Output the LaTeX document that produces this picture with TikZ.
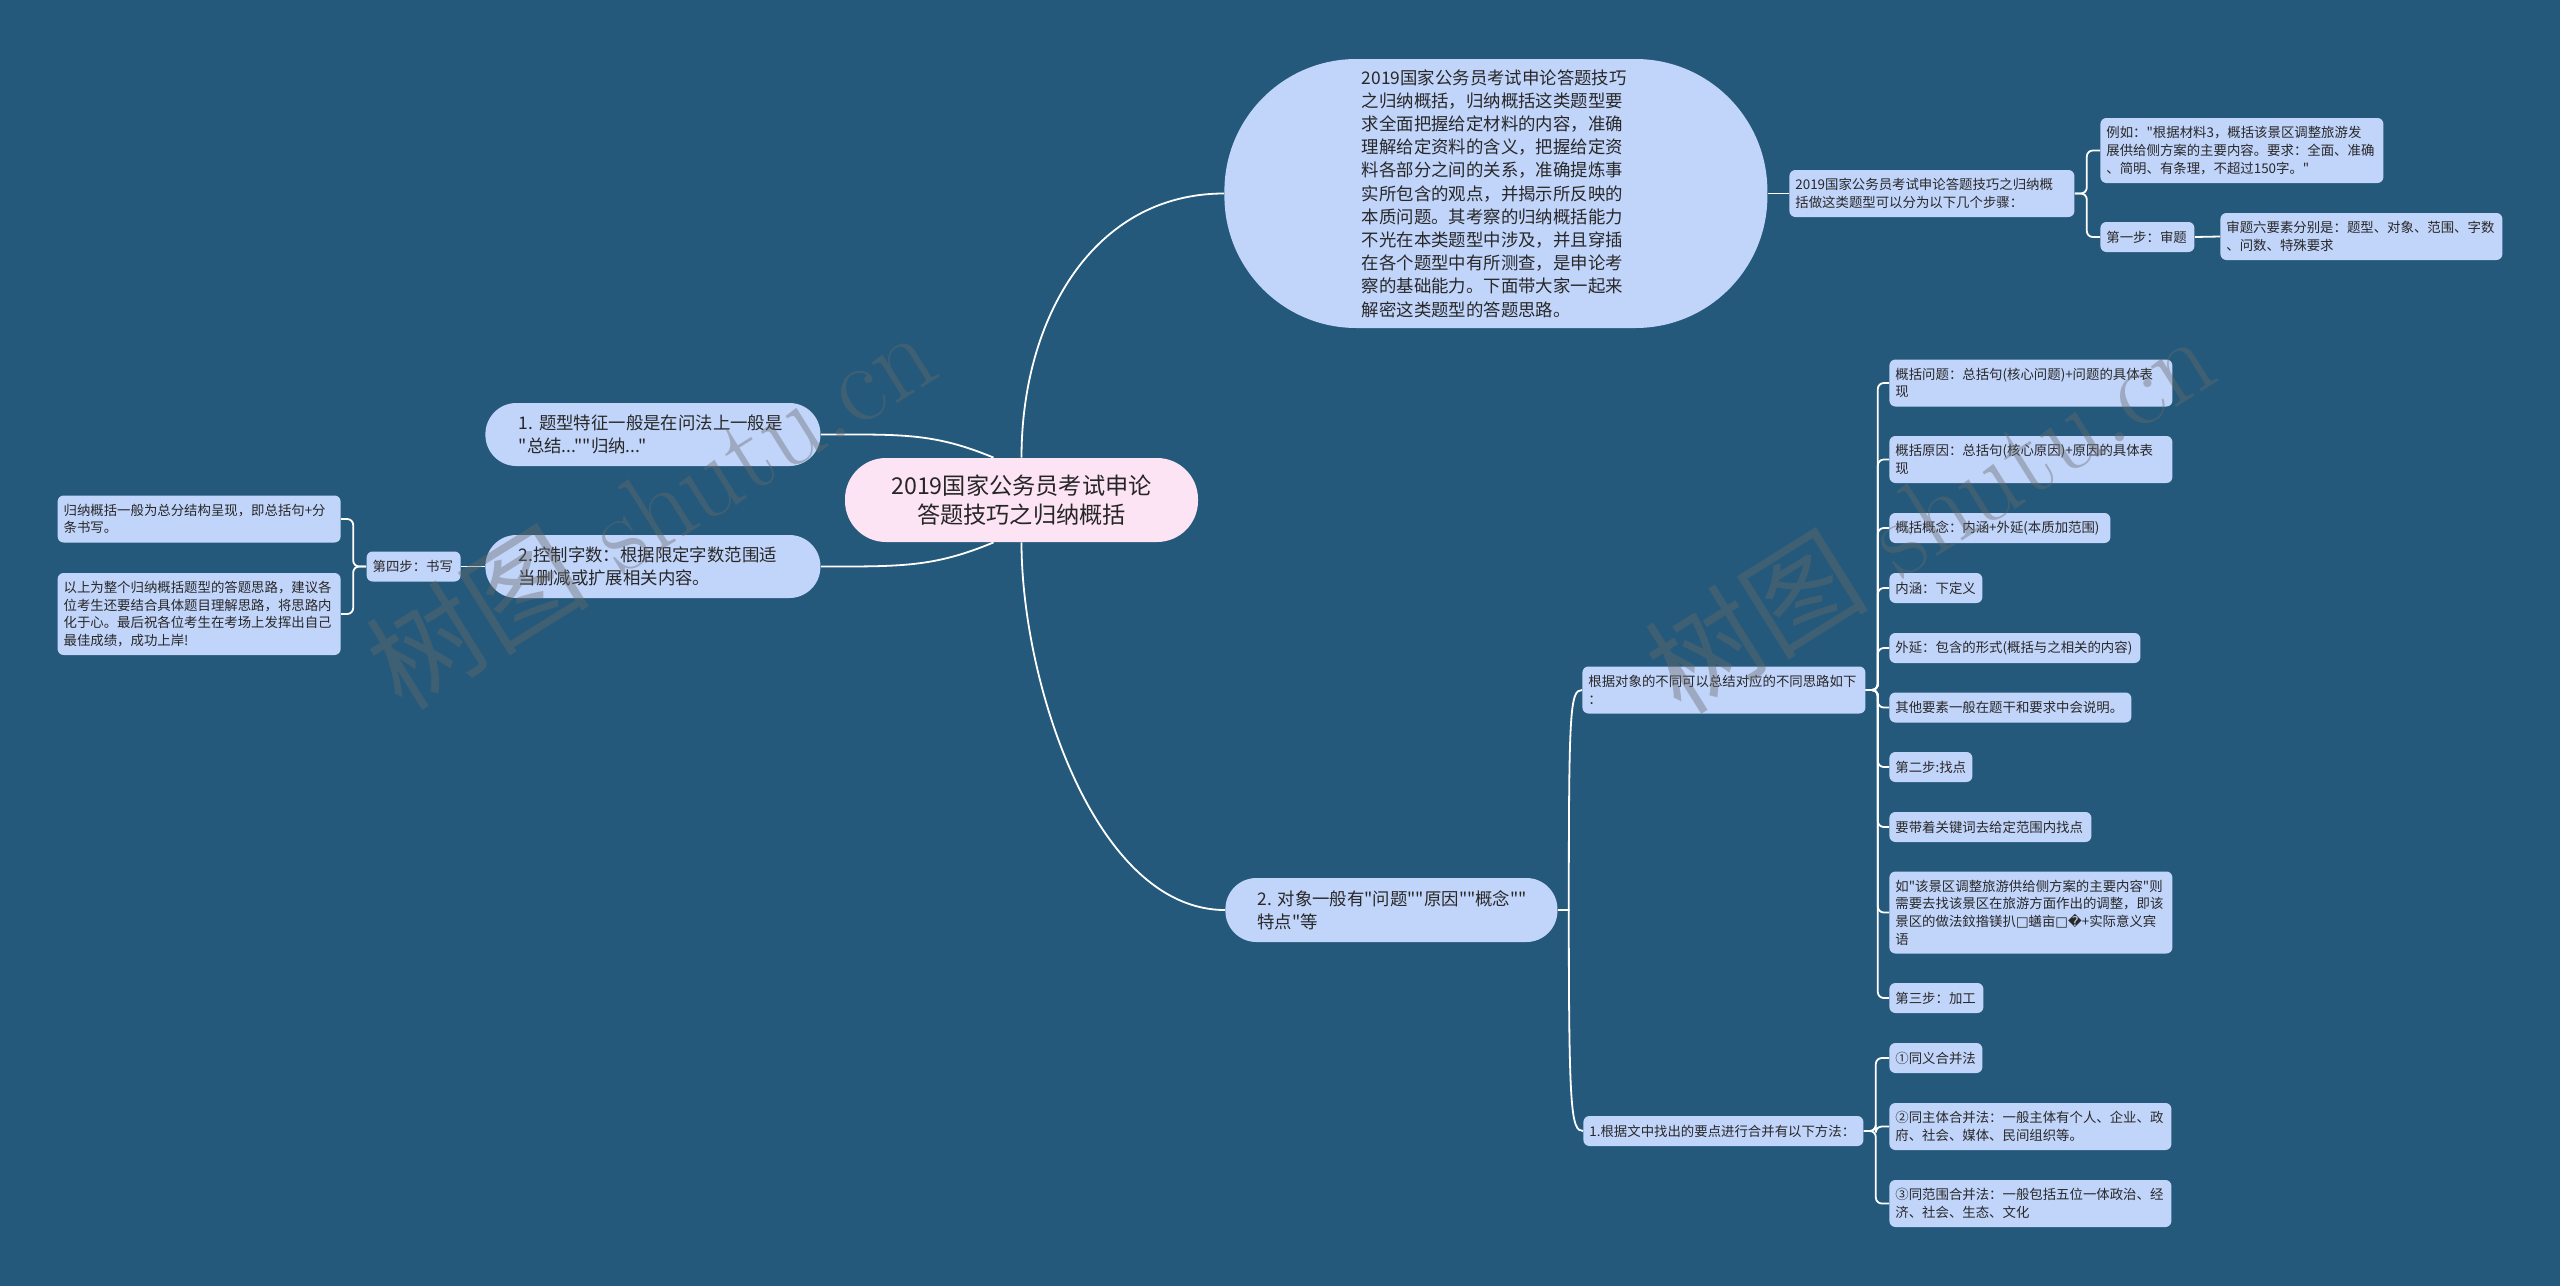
\documentclass[tikz,border=0pt]{standalone}
\usepackage{fontspec}
\newfontfamily\cjk{Noto Sans CJK SC}
\newfontfamily\dejavu{DejaVu Sans}

\definecolor{bgblue}{RGB}{36,89,123}
\definecolor{nodeblue}{RGB}{193,212,250}
\definecolor{rootpink}{RGB}{253,228,245}
\definecolor{textgray}{RGB}{40,40,40}
\definecolor{markgray}{RGB}{105,105,105}

\tikzstyle{topic} = [rectangle, fill=nodeblue, text=textgray, align=left, anchor=west,
text width=134pt, inner xsep=16.75pt, rounded corners=15.5pt, minimum height=31.5pt,
font=\cjk\fontsize{8.7}{11.6}\selectfont]
\tikzstyle{leaf} = [rectangle, fill=nodeblue, text=textgray, align=left, anchor=west,
rounded corners=3pt, inner xsep=3pt, inner ysep=1.5pt, minimum height=15pt,
font=\cjk\fontsize{6.7}{8.8}\selectfont]
\tikzstyle{link} = [draw, white, line width=0.9pt]
\tikzstyle{wmark} = [text=markgray, text opacity=0.4, rotate=32,
font=\fontsize{56}{56}\selectfont]

\begin{document}
\begin{tikzpicture}[x=0.5pt, y=-0.5pt]
    \fill [bgblue] (0,0) rectangle (2560,1286);
    \useasboundingbox (0,0) rectangle (2560,1286);

    % centre
    \node [rectangle, fill=rootpink, text=black!85, align=center, rounded corners=20.5pt,
      minimum width=176.5pt, minimum height=42pt, font=\cjk\fontsize{11.6}{14.2}\selectfont]
      (root) at (1021.5,500) {2019国家公务员考试申论\\答题技巧之归纳概括};

    % upper right
    \node [topic, text width=134pt, inner xsep=68.75pt, rounded corners=66pt, minimum height=134.5pt]
      (intro) at (1224,193.5) {2019国家公务员考试申论答题技巧\\之归纳概括，归纳概括这类题型要\\求全面把握给定材料的内容，准确\\理解给定资料的含义，把握给定资\\料各部分之间的关系，准确提炼事\\实所包含的观点，并揭示所反映的\\本质问题。其考察的归纳概括能力\\不光在本类题型中涉及，并且穿插\\在各个题型中有所测查，是申论考\\察的基础能力。下面带大家一起来\\解密这类题型的答题思路。};
    \node [leaf, text width=136.5pt, minimum height=23.5pt] (steps) at (1789,193.5)
      {2019国家公务员考试申论答题技巧之归纳概\\括做这类题型可以分为以下几个步骤：};
    \node [leaf, text width=135.5pt, minimum height=32.5pt] (liru) at (2100,150.5)
      {例如："根据材料3，概括该景区调整旅游发\\展供给侧方案的主要内容。要求：全面、准确\\、简明、有条理，不超过150字。"};
    \node [leaf, text width=41pt] (diyibu) at (2100,237) {第一步：审题};
    \node [leaf, text width=135pt, minimum height=23.5pt] (shenti) at (2220,236.5)
      {审题六要素分别是：题型、对象、范围、字数\\、问数、特殊要求};

    % left
    \node [topic] (tixing) at (485,434.5) {1.~题型特征一般是在问法上一般是\\"总结...""归纳..."};
    \node [topic] (kongzhi) at (485,566.5) {2.控制字数：根据限定字数范围适\\当删减或扩展相关内容。};
    \node [leaf, anchor=east, text width=41pt] (disibu) at (461,566.5) {第四步：书写};
    \node [leaf, anchor=east, text width=135.5pt, minimum height=23.5pt] (guina) at (341,519)
      {归纳概括一般为总分结构呈现，即总括句+分\\条书写。};
    \node [leaf, anchor=east, text width=135.5pt, minimum height=41pt] (yishang) at (341,614)
      {以上为整个归纳概括题型的答题思路，建议各\\位考生还要结合具体题目理解思路，将思路内\\化于心。最后祝各位考生在考场上发挥出自己\\最佳成绩，成功上岸!};

    % lower right
    \node [topic, text width=134pt, inner xsep=16pt, rounded corners=15.5pt, minimum height=32pt]
      (duixiang) at (1225,910) {2.~对象一般有"问题""原因""概念""\\特点"等};
    \node [leaf, text width=135.5pt, minimum height=23.5pt] (genju) at (1582,690)
      {根据对象的不同可以总结对应的不同思路如下\\：};
    \node [leaf, text width=134pt] (hebing) at (1583,1131) {1.根据文中找出的要点进行合并有以下方法：};

    \node [leaf, text width=135.5pt, minimum height=23.5pt] (wenti) at (1889,383)
      {概括问题：总括句(核心问题)+问题的具体表\\现};
    \node [leaf, text width=135.5pt, minimum height=23.5pt] (yuanyin) at (1889,459.5)
      {概括原因：总括句(核心原因)+原因的具体表\\现};
    \node [leaf, text width=104.5pt] (gainian) at (1889,528) {概括概念：内涵+外延(本质加范围)};
    \node [leaf, text width=40.5pt] (neihan) at (1889,588) {内涵：下定义};
    \node [leaf, text width=119.5pt] (waiyan) at (1889,648) {外延：包含的形式(概括与之相关的内容)};
    \node [leaf, text width=115pt] (qita) at (1889,707.5) {其他要素一般在题干和要求中会说明。};
    \node [leaf, text width=35.5pt] (dierbu) at (1889,767) {第二步:找点};
    \node [leaf, text width=95pt] (daizhe) at (1889,827) {要带着关键词去给定范围内找点};
    \node [leaf, text width=135.5pt, minimum height=41pt] (ruxx) at (1889,912.5)
      {如"该景区调整旅游供给侧方案的主要内容"则\\需要去找该景区在旅游方面作出的调整，即该\\景区的做法鈫揝镁扒{\dejavu □}蟮亩{\dejavu □�}+实际意义宾\\语};
    \node [leaf, text width=41pt] (disanbu) at (1889,998) {第三步：加工};
    \node [leaf, text width=40.5pt] (tongyi) at (1889,1058) {①同义合并法};
    \node [leaf, text width=135pt, minimum height=23.5pt] (zhuti) at (1889,1126.5)
      {②同主体合并法：一般主体有个人、企业、政\\府、社会、媒体、民间组织等。};
    \node [leaf, text width=135pt, minimum height=23.5pt] (fanwei) at (1889,1203.5)
      {③同范围合并法：一般包括五位一体政治、经\\济、社会、生态、文化};

    % connectors
    \path [link] (root.north) .. controls +(0,-140) and +(-130,0) .. (intro.west);
    \path [link] (root.south) .. controls +(0,140) and +(-130,0) .. (duixiang.west);
    \path [link] ([xshift=-14pt]root.north) .. controls +(-60,-25) and +(80,0) .. (tixing.east);
    \path [link] ([xshift=-14pt]root.south) .. controls +(-60,25) and +(80,0) .. (kongzhi.east);
    \path [link] (intro.east) -- (steps.west);
    \path [link, rounded corners=3pt] (steps.east) -- ++(12,0) |- (liru.west);
    \path [link, rounded corners=3pt] (steps.east) -- ++(12,0) |- (diyibu.west);
    \path [link] (diyibu.east) -- (shenti.west);
    \path [link] (kongzhi.west) -- (disibu.east);
    \path [link, rounded corners=3pt] (disibu.west) -- ++(-13,0) |- (guina.east);
    \path [link, rounded corners=3pt] (disibu.west) -- ++(-13,0) |- (yishang.east);
    \path [link] (duixiang.east) -- ++(11,0) .. controls +(0,-200) and +(-12,0) .. (genju.west);
    \path [link] (duixiang.east) -- ++(11,0) .. controls +(0,200) and +(-12,0) .. (hebing.west);
    \foreach \kid in {wenti,yuanyin,gainian,neihan,waiyan,qita,dierbu,daizhe,ruxx,disanbu}
      \path [link, rounded corners=3pt] (genju.east) -- ++(12,0) |- (\kid.west);
    \foreach \kid in {tongyi,zhuti,fanwei}
      \path [link, rounded corners=3pt] (hebing.east) -- ++(12,0) |- (\kid.west);

    % watermark
    \node [wmark] (wm1) at (650,508) {{\cjk 树图} shutu.cn};
    \node [wmark] (wm2) at (1929,512) {{\cjk 树图} shutu.cn};
\end{tikzpicture}
\end{document}
